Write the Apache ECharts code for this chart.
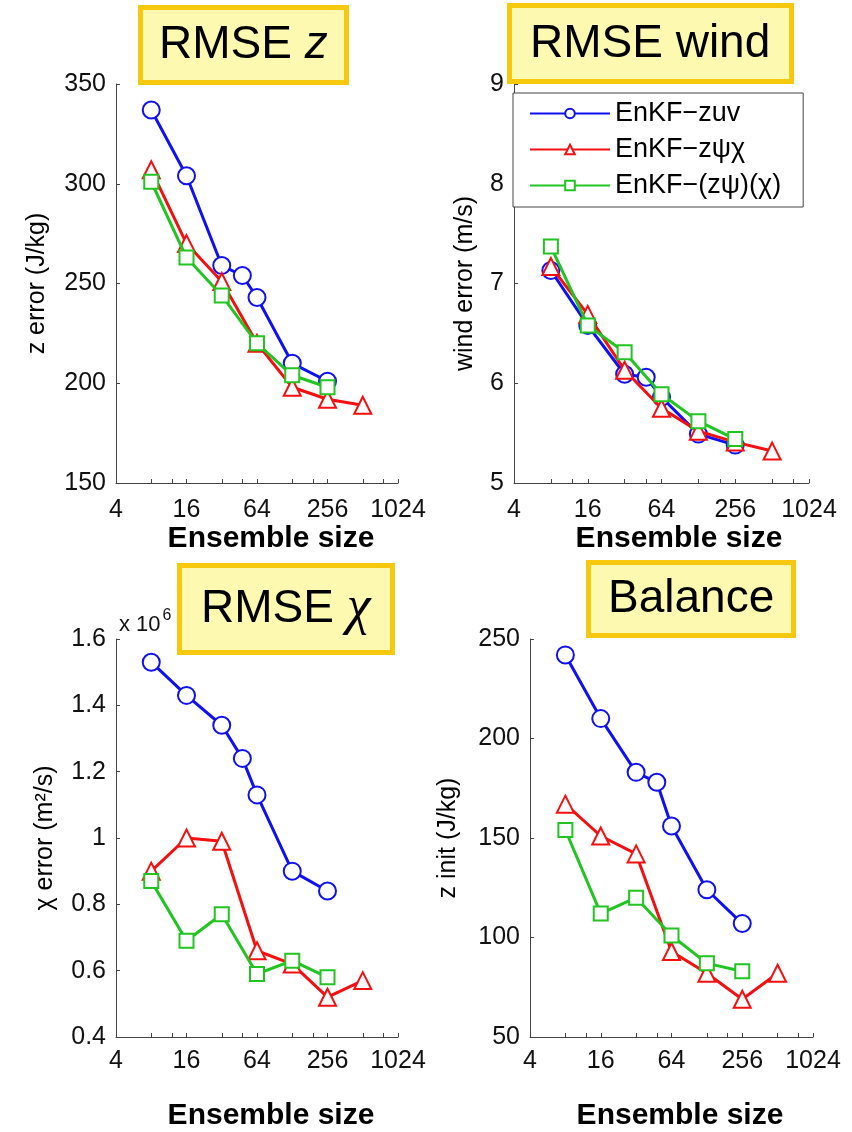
<!DOCTYPE html>
<html>
<head>
<meta charset="utf-8">
<script src="https://cdn.jsdelivr.net/npm/echarts@6/dist/echarts.min.js"></script>
<style>
  html, body { margin: 0; padding: 0; background: #fff; }
  #chart { width: 852px; height: 1132px; }
</style>
</head>
<body>
<div id="chart"></div>
<script>
// ensemble sizes for each method
var sizesZuv = [8, 16, 32, 48, 64, 128, 256];
var sizesZpc = [8, 16, 32, 64, 128, 256, 512];
var sizesSplit = [8, 16, 32, 64, 128, 256];

// x axis: labelled ticks and all tick marks
var xTickLabels = [4, 16, 64, 256, 1024];
var xTickMarks = [4, 8, 12, 16, 32, 48, 64, 128, 192, 256, 512, 768, 1024];

// RMSE z (J/kg)
var zErrZuv = [337, 304, 259, 254, 243, 210, 201];
var zErrZpc = [307, 270, 251, 220, 198, 192, 189];
var zErrSplit = [301, 263, 244, 220, 204, 198];

// RMSE wind (m/s)
var windZuv = [7.13, 6.58, 6.09, 6.06, 5.86, 5.49, 5.38];
var windZpc = [7.17, 6.69, 6.13, 5.75, 5.52, 5.41, 5.32];
var windSplit = [7.37, 6.58, 6.31, 5.89, 5.62, 5.44];

// RMSE chi (x 10^6 m2/s)
var chiZuv = [1.53, 1.43, 1.34, 1.24, 1.13, 0.90, 0.84];
var chiZpc = [0.90, 1.00, 0.99, 0.66, 0.62, 0.52, 0.57];
var chiSplit = [0.87, 0.69, 0.77, 0.59, 0.63, 0.58];

// Balance, z init (J/kg)
var balZuv = [242, 210, 183, 178, 156, 124, 107];
var balZpc = [167, 151, 142, 93, 82, 69, 82];
var balSplit = [154, 112, 120, 101, 87, 83];

var names = ["EnKF\u2212zuv", "EnKF\u2212z\u03c8\u03c7", "EnKF\u2212(z\u03c8)(\u03c7)"];
var colors = ["#1010f4", "#f41010", "#22c422"];
var symbols = ["emptyCircle", "emptyTriangle", "emptyRect"];
var symSizes = [17, 17, 14];

var FONT = "'Liberation Sans', Arial, sans-serif";

function log2(v) { return Math.log(v) / Math.LN2; }

function pairs(sizes, vals) {
  return sizes.map(function (s, i) { return [log2(s), vals[i]]; });
}

function makeX(idx, nameGap, labelMargin, shift) {
  return {
    type: "value",
    gridIndex: idx,
    min: 2,
    max: 10,
    interval: 2,
    name: "Ensemble size",
    nameLocation: "middle",
    nameGap: nameGap,
    nameTextStyle: { fontFamily: FONT, fontSize: 30, fontWeight: "bold", color: "#000", padding: [0, 0, 0, shift] },
    axisLine: { lineStyle: { color: "#444", width: 1 } },
    axisTick: { inside: true, length: 4, lineStyle: { color: "#444" }, customValues: xTickMarks.map(log2) },
    axisLabel: {
      fontFamily: FONT, fontSize: 25, color: "#111", margin: labelMargin,
      customValues: xTickLabels.map(log2),
      formatter: function (v) { return String(Math.round(Math.pow(2, v))); }
    },
    splitLine: { show: false }
  };
}

function makeY(idx, min, max, interval, name, nameGap) {
  return {
    type: "value",
    gridIndex: idx,
    min: min,
    max: max,
    interval: interval,
    name: name,
    nameLocation: "middle",
    nameRotate: 90,
    nameGap: nameGap,
    nameTextStyle: { fontFamily: FONT, fontSize: 25, color: "#000" },
    axisLine: { show: true, lineStyle: { color: "#444", width: 1 } },
    axisTick: { show: true, inside: true, length: 4, lineStyle: { color: "#444" } },
    axisLabel: { fontFamily: FONT, fontSize: 25, color: "#111", margin: 10 },
    splitLine: { show: false }
  };
}

function makeSeries(k, idx, sizes, vals) {
  return {
    name: names[k],
    type: "line",
    xAxisIndex: idx,
    yAxisIndex: idx,
    data: pairs(sizes, vals),
    symbol: symbols[k],
    symbolSize: symSizes[k],
    color: colors[k],
    lineStyle: { width: 3, color: colors[k] },
    itemStyle: { color: colors[k], borderColor: colors[k], borderWidth: 3 },
    emphasis: { disabled: true },
    animation: false,
    z: 2 + k
  };
}

function titleBox(text, left, top, padding, rich) {
  return {
    text: text,
    left: left,
    top: top,
    padding: padding,
    backgroundColor: "#fdf9b0",
    borderColor: "#f6c90e",
    borderWidth: 5,
    textStyle: { fontFamily: FONT, fontSize: 46, fontWeight: "normal", color: "#000", rich: rich }
  };
}

var richBase = {
  n: { fontFamily: FONT, fontSize: 46, color: "#000" },
  i: { fontFamily: FONT, fontSize: 46, fontStyle: "italic", color: "#000" },
  g: { fontFamily: "'Liberation Serif', serif", fontSize: 54, fontStyle: "italic", color: "#000" }
};

var chart = echarts.init(document.getElementById("chart"));

var option = {
  backgroundColor: "#fff",
  animation: false,
  title: [
    titleBox("{n|RMSE }{i|z}", 140, 7, [15, 19, 15, 19], richBase),
    titleBox("{n|RMSE wind}", 509, 5, [16, 21, 15, 21], richBase),
    titleBox("{n|RMSE }{g|\u03c7}", 179, 565, [17, 22, 17, 22], richBase),
    titleBox("{n|Balance}", 588, 562, [14, 20, 14, 20], richBase),
    {
      text: "{a|x 10}{s|6}",
      left: 114,
      top: 603,
      textStyle: {
        fontWeight: "normal",
        rich: {
          a: { fontFamily: FONT, fontSize: 22, fontWeight: "normal", color: "#111", verticalAlign: "bottom" },
          s: { fontFamily: FONT, fontSize: 16, fontWeight: "normal", color: "#111", verticalAlign: "top", padding: [0, 0, 12, 2] }
        }
      }
    }
  ],
  legend: {
    data: names,
    orient: "vertical",
    left: 513,
    top: 93,
    padding: [7, 22, 8, 16],
    itemGap: 9,
    itemWidth: 80,
    itemHeight: 12,
    backgroundColor: "#fff",
    borderColor: "#444",
    borderWidth: 1,
    borderRadius: 0,
    selectedMode: false,
    textStyle: { fontFamily: FONT, fontSize: 27, color: "#000" }
  },
  grid: [
    { left: 116, top: 84, width: 282, height: 399 },
    { left: 514, top: 84, width: 295, height: 399 },
    { left: 116, top: 639, width: 282, height: 402 },
    { left: 530, top: 639, width: 283, height: 402 }
  ],
  xAxis: [
    makeX(0, 40, 15, 28),
    makeX(1, 40, 15, 35),
    makeX(2, 64, 12, 28),
    makeX(3, 64, 12, 17)
  ],
  yAxis: [
    makeY(0, 150, 350, 50, "z error (J/kg)", 66),
    makeY(1, 5, 9, 1, "wind error (m/s)", 36),
    makeY(2, 0.4, 1.6, 0.2, "\u03c7 error (m\u00b2/s)", 58),
    makeY(3, 50, 250, 50, "z init (J/kg)", 69)
  ],
  series: [
    makeSeries(0, 0, sizesZuv, zErrZuv),
    makeSeries(1, 0, sizesZpc, zErrZpc),
    makeSeries(2, 0, sizesSplit, zErrSplit),
    makeSeries(0, 1, sizesZuv, windZuv),
    makeSeries(1, 1, sizesZpc, windZpc),
    makeSeries(2, 1, sizesSplit, windSplit),
    makeSeries(0, 2, sizesZuv, chiZuv),
    makeSeries(1, 2, sizesZpc, chiZpc),
    makeSeries(2, 2, sizesSplit, chiSplit),
    makeSeries(0, 3, sizesZuv, balZuv),
    makeSeries(1, 3, sizesZpc, balZpc),
    makeSeries(2, 3, sizesSplit, balSplit)
  ]
};

chart.setOption(option);
</script>
</body>
</html>
